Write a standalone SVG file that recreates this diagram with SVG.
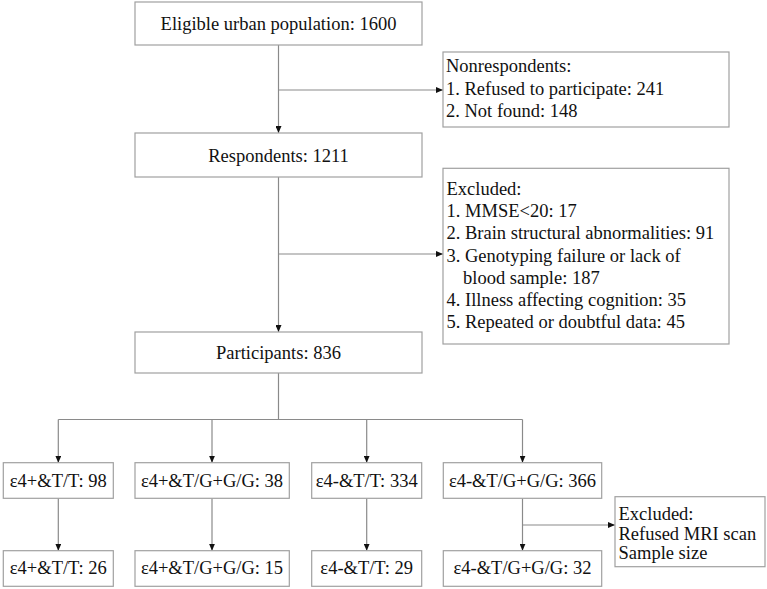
<svg xmlns="http://www.w3.org/2000/svg" width="767" height="589" viewBox="0 0 767 589" font-family="'Liberation Serif', 'Times New Roman', 'DejaVu Serif', serif">
<defs>
<marker id="ah" viewBox="0 0 7 6" refX="7" refY="3" markerWidth="7" markerHeight="6" markerUnits="userSpaceOnUse" orient="auto">
<path d="M0,0 L7,3 L0,6 z" fill="#111"/>
</marker>
<style>
rect{fill:#fff;stroke:#a0a0a0;stroke-width:1.2}
text{font-family:'Liberation Serif','Times New Roman','DejaVu Serif',serif;font-size:18.5px;fill:#111}
.c{text-anchor:middle}
.ln{fill:none;stroke:#8a8a8a;stroke-width:1.2}
.ar{marker-end:url(#ah)}
</style>
</defs>
<rect x="0" y="0" width="767" height="589" style="stroke:none;fill:#fff"/>
<g id="connectors">
<path class="ln ar" d="M278.5,45 V133"/>
<path class="ln ar" d="M278.5,90 H443"/>
<path class="ln ar" d="M278.5,177 V332"/>
<path class="ln ar" d="M278.5,254 H443"/>
<path class="ln" d="M278.5,373 V419.5 M58.3,419.5 H522.5"/>
<path class="ln ar" d="M58.3,419.5 V462.7"/>
<path class="ln ar" d="M212,419.5 V462.7"/>
<path class="ln ar" d="M366.7,419.5 V462.7"/>
<path class="ln ar" d="M522.5,419.5 V462.7"/>
<path class="ln ar" d="M58.3,498.3 V550.7"/>
<path class="ln ar" d="M212,498.3 V550.7"/>
<path class="ln ar" d="M366.7,498.3 V550.7"/>
<path class="ln ar" d="M522.5,498.3 V550.7"/>
<path class="ln ar" d="M522.5,525 H615"/>
</g>
<g id="eligible"><rect x="135" y="2" width="287" height="43"/><text class="c" x="278.5" y="29.5">Eligible urban population: 1600</text></g>
<g id="nonrespondents"><rect x="443" y="52" width="286" height="75"/>
<text x="446" y="72">Nonrespondents:</text>
<text x="446" y="95">1. Refused to participate: 241</text>
<text x="446" y="117">2. Not found: 148</text></g>
<g id="respondents"><rect x="135" y="133" width="287" height="44"/><text class="c" x="278.5" y="162">Respondents: 1211</text></g>
<g id="excluded1"><rect x="443" y="168.3" width="286" height="175.7"/>
<text x="446.5" y="195">Excluded:</text>
<text x="446.5" y="217">1. MMSE&lt;20: 17</text>
<text x="446.5" y="239.3">2. Brain structural abnormalities: 91</text>
<text x="446.5" y="261.5">3. Genotyping failure or lack of</text>
<text x="463" y="283.7">blood sample: 187</text>
<text x="446.5" y="306">4. Illness affecting cognition: 35</text>
<text x="446.5" y="328">5. Repeated or doubtful data: 45</text></g>
<g id="participants"><rect x="135" y="332" width="287" height="41"/><text class="c" x="278.5" y="359">Participants: 836</text></g>
<g id="g1"><rect x="3.3" y="462.7" width="110" height="35.6"/><text class="c" x="58.3" y="487">ε4+&amp;T/T: 98</text></g>
<g id="g2"><rect x="135" y="462.7" width="154.3" height="35.6"/><text class="c" x="212" y="487">ε4+&amp;T/G+G/G: 38</text></g>
<g id="g3"><rect x="311.7" y="462.7" width="110" height="35.6"/><text class="c" x="366.7" y="487">ε4-&amp;T/T: 334</text></g>
<g id="g4"><rect x="443.3" y="462.7" width="158.4" height="35.6"/><text class="c" x="522.5" y="487">ε4-&amp;T/G+G/G: 366</text></g>
<g id="h1"><rect x="3.3" y="550.7" width="110" height="35.6"/><text class="c" x="58.3" y="574">ε4+&amp;T/T: 26</text></g>
<g id="h2"><rect x="135" y="550.7" width="154.3" height="35.6"/><text class="c" x="212" y="574">ε4+&amp;T/G+G/G: 15</text></g>
<g id="h3"><rect x="311.7" y="550.7" width="110" height="35.6"/><text class="c" x="366.7" y="574">ε4-&amp;T/T: 29</text></g>
<g id="h4"><rect x="443.3" y="550.7" width="158.4" height="35.6"/><text class="c" x="522.5" y="574">ε4-&amp;T/G+G/G: 32</text></g>
<g id="excluded2"><rect x="615" y="496.7" width="150" height="70"/>
<text x="618.5" y="520">Excluded:</text>
<text x="618.5" y="540">Refused MRI scan</text>
<text x="618.5" y="558.5">Sample size</text></g>
</svg>
